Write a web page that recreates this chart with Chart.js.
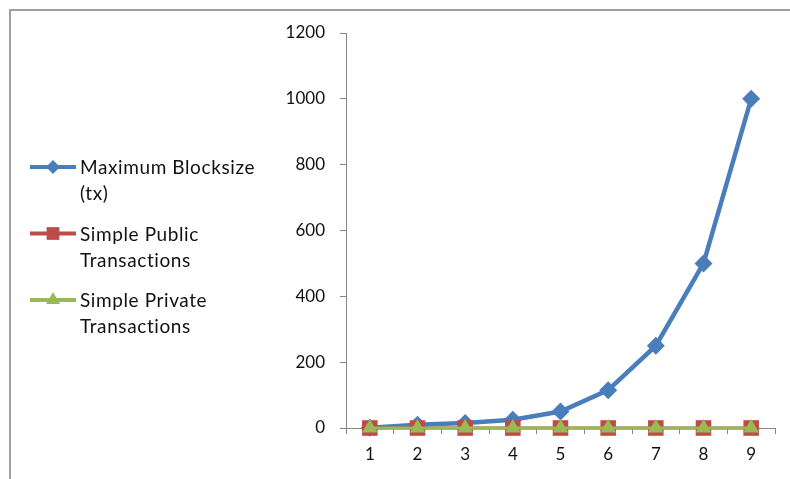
<!DOCTYPE html>
<html>
<head>
<meta charset="utf-8">
<script src="https://cdn.jsdelivr.net/npm/chart.js@4.4.0/dist/chart.umd.min.js"></script>
<style>
    html, body { margin: 0; padding: 0; background: #fff; }
    #wrap { position: relative; width: 790px; height: 479px; }
</style>
</head>
<body>
<div id="wrap"><canvas id="chart" width="790" height="479"></canvas></div>
<script>
const categories = ['1', '2', '3', '4', '5', '6', '7', '8', '9'];
const maxBlocksize = [1, 10, 15, 25, 50, 115, 250, 500, 1000];
const publicTx = [0, 0, 0, 0, 0, 0, 0, 0, 0];
const privateTx = [0, 0, 0, 0, 0, 0, 0, 0, 0];
const yTicks = [0, 200, 400, 600, 800, 1000, 1200];
const legendLines = [
    ['Maximum Blocksize', '(tx)'],
    ['Simple Public', 'Transactions'],
    ['Simple Private', 'Transactions']
];

const axisGray = '#868686';

function drawMarker(ctx, style, x, y, r) {
    if (Chart.helpers && Chart.helpers.drawPoint) {
        Chart.helpers.drawPoint(ctx, { pointStyle: style, radius: r, rotation: 0, borderWidth: 0 }, x, y);
        return;
    }
    ctx.beginPath();
    ctx.arc(x, y, r, 0, Math.PI * 2);
    ctx.fill();
}

// grey frame on top and left, like the cropped chart border
const framePlugin = {
    id: 'frame',
    beforeDraw(chart) {
        const ctx = chart.ctx;
        ctx.save();
        ctx.strokeStyle = '#a0a0a0';
        ctx.lineWidth = 2;
        ctx.beginPath();
        ctx.moveTo(10, chart.height);
        ctx.lineTo(10, 10);
        ctx.lineTo(chart.width, 10);
        ctx.stroke();
        ctx.restore();
    }
};

// legend on the left, with wrapped labels
const sideLegend = {
    id: 'sideLegend',
    afterDraw(chart) {
        const ctx = chart.ctx;
        const sizes = [7, 9, 8];
        ctx.save();
        chart.data.datasets.forEach(function(ds, i) {
            const y = 167 + i * 66.5;
            ctx.strokeStyle = ds.borderColor;
            ctx.lineWidth = 4;
            ctx.beginPath();
            ctx.moveTo(30, y);
            ctx.lineTo(76, y);
            ctx.stroke();
            ctx.fillStyle = ds.backgroundColor;
            drawMarker(ctx, ds.pointStyle, 53, y, sizes[i]);
            ctx.fillStyle = '#111';
            ctx.font = '19px Lato';
            ctx.letterSpacing = '0.6px';
            ctx.textBaseline = 'alphabetic';
            ctx.textAlign = 'left';
            legendLines[i].forEach(function(t, j) {
                ctx.fillText(t, 80, y + 7 + j * 26);
            });
        });
        ctx.restore();
    }
};

const ctx = document.getElementById('chart').getContext('2d');
const chart = new Chart(ctx, {
    type: 'line',
    data: {
        labels: categories,
        datasets: [{
            label: legendLines[0].join(' '),
            data: maxBlocksize,
            borderColor: '#4a7ebb',
            backgroundColor: '#4a7ebb',
            borderWidth: 4.5,
            pointStyle: 'rectRot',
            pointRadius: 9,
            pointBorderWidth: 0,
            order: 3,
            clip: false,
            tension: 0
        }, {
            label: legendLines[1].join(' '),
            data: publicTx,
            borderColor: '#be4b48',
            backgroundColor: '#be4b48',
            borderWidth: 3,
            pointStyle: 'rect',
            pointRadius: 11,
            pointBorderWidth: 0,
            order: 2,
            clip: false
        }, {
            label: legendLines[2].join(' '),
            data: privateTx,
            borderColor: '#98b954',
            backgroundColor: '#98b954',
            borderWidth: 3,
            pointStyle: 'triangle',
            pointRadius: 9,
            pointBorderWidth: 0,
            order: 1,
            clip: false
        }]
    },
    options: {
        responsive: false,
        animation: false,
        layout: {
            padding: { left: 286, top: 33, right: 15, bottom: 0 }
        },
        plugins: {
            legend: { display: false },
            tooltip: { enabled: false }
        },
        scales: {
            x: {
                offset: true,
                grid: {
                    offset: true,
                    drawOnChartArea: false,
                    tickLength: 6,
                    color: axisGray
                },
                border: { color: axisGray, width: 1 },
                ticks: {
                    font: { family: 'Lato', size: 17 },
                    color: '#111',
                    padding: 10
                },
                afterFit: function(scale) { scale.height = 51; }
            },
            y: {
                min: 0,
                max: 1200,
                afterBuildTicks: function(scale) {
                    scale.ticks = yTicks.map(v => ({ value: v }));
                },
                grid: {
                    drawOnChartArea: false,
                    tickLength: 6,
                    color: axisGray
                },
                border: { color: axisGray, width: 1 },
                ticks: {
                    font: { family: 'Lato', size: 17 },
                    color: '#111',
                    padding: 15,
                    callback: function(v) { return String(v); }
                },
                afterFit: function(scale) { scale.width = 60; }
            }
        }
    },
    plugins: [framePlugin, sideLegend]
});
</script>
</body>
</html>
